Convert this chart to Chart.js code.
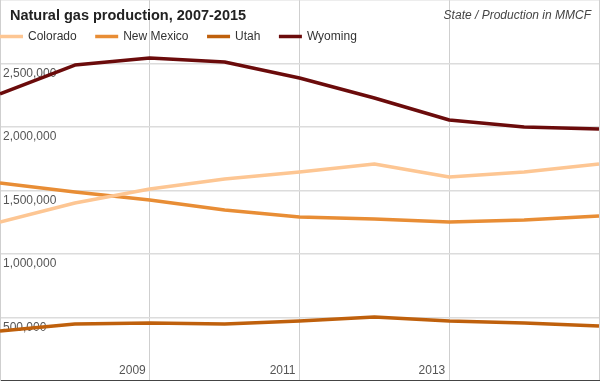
<!DOCTYPE html>
<html><head><meta charset="utf-8">
<style>html,body{margin:0;padding:0;background:#fff;overflow:hidden}canvas{display:block}</style>
<script src="https://cdn.jsdelivr.net/npm/chart.js@4"></script>
</head><body>
<canvas id="c" width="600" height="381"></canvas>
<script>
const years = ['2007','2008','2009','2010','2011','2012','2013','2014','2015'];
const colorado  = [1252000,1402000,1512000,1591000,1646000,1709000,1606000,1646000,1709000];
const newMexico = [1559000,1488000,1425000,1346000,1291000,1276000,1252000,1268000,1299000];
const utah      = [394000,449000,457000,449000,472000,504000,472000,457000,433000];
const wyoming   = [2260000,2488000,2543000,2512000,2386000,2228000,2055000,2000000,1984000];
const xTickLabels = ['2009','2011','2013'];
const yTickValues = [500000,1000000,1500000,2000000,2500000];
const titleText = 'Natural gas production, 2007-2015';
const subtitleText = 'State / Production in MMCF';

const FONT = '"Liberation Sans", Arial, Helvetica, sans-serif';

const overlay = {
  id: 'overlay',
  afterDraw(chart) {
    const ctx = chart.ctx;
    ctx.save();
    ctx.textBaseline = 'middle';
    ctx.textAlign = 'left';
    ctx.fillStyle = '#222';
    ctx.font = 'bold 14.5px ' + FONT;
    ctx.fillText(titleText, 10, 16);
    ctx.textAlign = 'right';
    ctx.fillStyle = '#444';
    ctx.font = 'italic 12px ' + FONT;
    ctx.fillText(subtitleText, 591, 16);
    // legend
    ctx.font = '12px ' + FONT;
    ctx.textAlign = 'left';
    let x = 0;
    chart.data.datasets.forEach(ds => {
      ctx.strokeStyle = ds.borderColor;
      ctx.lineWidth = 3.5;
      ctx.beginPath();
      ctx.moveTo(x, 36.5);
      ctx.lineTo(x + 23, 36.5);
      ctx.stroke();
      ctx.fillStyle = '#333';
      ctx.fillText(ds.label, x + 28, 37);
      x += 28 + ctx.measureText(ds.label).width + 18.5;
    });
    // x labels
    const xs = chart.scales.x;
    ctx.fillStyle = '#555';
    ctx.textAlign = 'right';
    xTickLabels.forEach(yr => {
      const px = xs.getPixelForValue(years.indexOf(yr));
      ctx.fillText(yr, px - 4, 370.5);
    });
    ctx.restore();
  }
};

new Chart(document.getElementById('c'), {
  type: 'line',
  data: {
    labels: years,
    datasets: [
      { label: 'Colorado', data: colorado, borderColor: '#fdc693' },
      { label: 'New Mexico', data: newMexico, borderColor: '#e88d35' },
      { label: 'Utah', data: utah, borderColor: '#bf600c' },
      { label: 'Wyoming', data: wyoming, borderColor: '#6b0b0b' }
    ].map(d => Object.assign(d, { borderWidth: 3.5, pointRadius: 0, tension: 0, fill: false, borderJoinStyle: 'round' }))
  },
  options: {
    responsive: false,
    animation: false,
    devicePixelRatio: 1,
    layout: { padding: { left: 0, right: 1, top: 0, bottom: 0 } },
    plugins: { legend: { display: false }, title: { display: false }, tooltip: { enabled: false } },
    scales: {
      x: {
        offset: false,
        grid: {
          drawTicks: false,
          color: c => (c.index % 2 === 0 ? '#cfcfcf' : 'rgba(0,0,0,0)'),
          lineWidth: 1
        },
        border: { display: true, color: '#444', width: 2 },
        ticks: { display: false },
        afterFit: s => { s.height = 0; s.paddingLeft = 0; s.paddingRight = 0; }
      },
      y: {
        min: 0,
        max: 3000000,
        afterBuildTicks: s => { s.ticks = [0].concat(yTickValues, [3000000]).map(v => ({ value: v })); },
        grid: { drawTicks: false, color: '#dcdcdc', lineWidth: 1.5 },
        border: { display: true, color: '#cfcfcf', width: 2 },
        ticks: {
          mirror: true,
          padding: 3,
          labelOffset: 10,
          color: '#555',
          font: { family: FONT, size: 12 },
          callback: v => (yTickValues.includes(v) ? v.toLocaleString('en-US') : '')
        },
        afterFit: s => { s.width = 0; s.paddingTop = 0; s.paddingBottom = 0; }
      }
    }
  },
  plugins: [overlay]
});
</script>
</body></html>
